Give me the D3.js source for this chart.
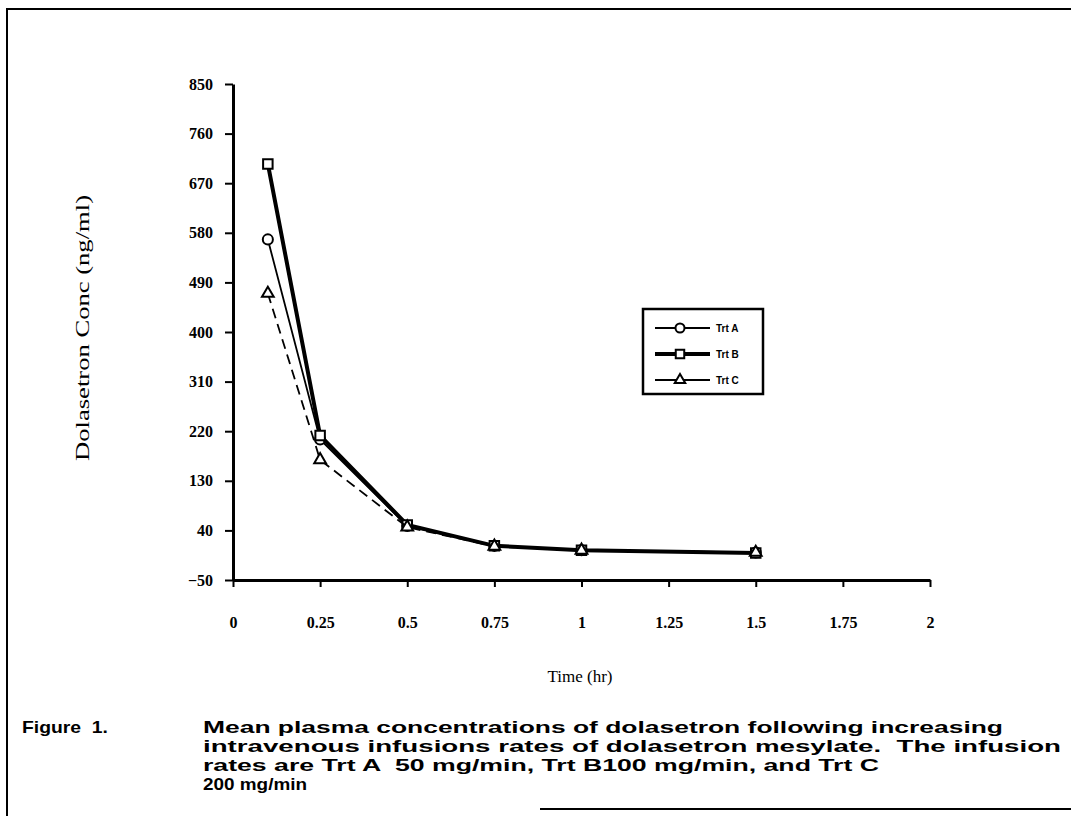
<!DOCTYPE html>
<head>
  <meta charset="utf-8">
  <script src="https://d3js.org/d3.v7.min.js"></script>
  <style>
    body { margin: 0; background: #fff; }
    svg { display: block; }
  </style>
</head>
<body>
  <div class="chart"></div>
  <script>
    var times = [0.1, 0.25, 0.5, 0.75, 1, 1.5];
    var trtA = [568, 205, 48, 12, 4, 0];
    var trtB = [705, 212, 50, 12, 4, -1];
    var trtC = [470, 168, 46, 11, 4, 0];
    var seriesNames = ["Trt A", "Trt B", "Trt C"];
    var yTicks = [-50, 40, 130, 220, 310, 400, 490, 580, 670, 760, 850];
    var xTicks = [0, 0.25, 0.5, 0.75, 1, 1.25, 1.5, 1.75, 2];
    var captionLines = [
      "Mean plasma concentrations of dolasetron following increasing",
      "intravenous infusions rates of dolasetron mesylate.  The infusion",
      "rates are Trt A  50 mg/min, Trt B100 mg/min, and Trt C",
      "200 mg/min"
    ];

    (function() {
      var width = 1071, height = 816;

      var svg = d3.select(".chart").append("svg")
        .attr("width", width)
        .attr("height", height);

      // page frame from the scan
      svg.append("path")
        .attr("d", "M7,816 L7,9 L1071,9")
        .attr("fill", "none").attr("stroke", "#000").attr("stroke-width", 2);
      svg.append("line")
        .attr("x1", 540).attr("x2", 1071).attr("y1", 809).attr("y2", 809)
        .attr("stroke", "#000").attr("stroke-width", 2);

      var x = d3.scaleLinear().domain([0, 2]).range([233, 930]);
      var y = d3.scaleLinear().domain([-50, 850]).range([580, 84]);

      var yAxis = svg.append("g")
        .attr("transform", "translate(233,0)")
        .call(d3.axisLeft(y).tickValues(yTicks).tickSize(8).tickPadding(12).tickSizeOuter(0));
      yAxis.select(".domain").attr("stroke-width", 3);
      yAxis.selectAll(".tick line").attr("stroke-width", 2);
      yAxis.selectAll("text")
        .attr("font-family", "Liberation Serif")
        .attr("font-weight", "bold")
        .attr("font-size", 16)
        .attr("fill", "#000");

      var xAxis = svg.append("g")
        .attr("transform", "translate(0,580)")
        .call(d3.axisBottom(x).tickValues(xTicks).tickSize(7).tickPadding(30).tickSizeOuter(0)
          .tickFormat(function(d) { return String(d); }));
      xAxis.select(".domain").attr("stroke-width", 3);
      xAxis.selectAll(".tick line").attr("stroke-width", 2);
      xAxis.selectAll("text")
        .attr("font-family", "Liberation Serif")
        .attr("font-weight", "bold")
        .attr("font-size", 16)
        .attr("fill", "#000");

      svg.append("text")
        .attr("transform", "translate(89,328) rotate(-90)")
        .attr("text-anchor", "middle")
        .attr("font-family", "Liberation Serif")
        .attr("font-size", 19)
        .attr("textLength", 266)
        .attr("lengthAdjust", "spacingAndGlyphs")
        .text("Dolasetron Conc (ng/ml)");

      svg.append("text")
        .attr("x", 580).attr("y", 682)
        .attr("text-anchor", "middle")
        .attr("font-family", "Liberation Serif")
        .attr("font-size", 17)
        .text("Time (hr)");

      var series = [
        { name: seriesNames[0], values: trtA, width: 1.8, dash: null, shape: d3.symbolCircle, size: 80 },
        { name: seriesNames[1], values: trtB, width: 4, dash: null, shape: d3.symbolSquare, size: 90 },
        { name: seriesNames[2], values: trtC, width: 1.8, dash: "10,6", shape: d3.symbolTriangle, size: 60 }
      ];

      var line = d3.line()
        .x(function(d, i) { return x(times[i]); })
        .y(function(d) { return y(d); });

      var g = svg.selectAll(".series")
        .data(series)
        .enter().append("g")
        .attr("class", "series");

      g.append("path")
        .attr("d", function(d) { return line(d.values); })
        .attr("fill", "none")
        .attr("stroke", "#000")
        .attr("stroke-width", function(d) { return d.width; })
        .attr("stroke-dasharray", function(d) { return d.dash; });

      g.selectAll(".pt")
        .data(function(d) {
          return d.values.map(function(v, i) { return { t: times[i], v: v, s: d }; });
        })
        .enter().append("path")
        .attr("class", "pt")
        .attr("transform", function(d) { return "translate(" + x(d.t) + "," + y(d.v) + ")"; })
        .attr("d", function(d) { return d3.symbol().type(d.s.shape).size(d.s.size)(); })
        .attr("fill", "#fff")
        .attr("stroke", "#000")
        .attr("stroke-width", 2);

      // legend
      var legend = svg.append("g");
      legend.append("rect")
        .attr("x", 643).attr("y", 309).attr("width", 120).attr("height", 85)
        .attr("fill", "#fff").attr("stroke", "#000").attr("stroke-width", 2.5);
      var rows = legend.selectAll(".row")
        .data(series)
        .enter().append("g")
        .attr("transform", function(d, i) { return "translate(0," + (328 + i * 26) + ")"; });
      rows.append("line")
        .attr("x1", 655).attr("x2", 710)
        .attr("stroke", "#000")
        .attr("stroke-width", function(d) { return d.width; });
      rows.append("path")
        .attr("transform", "translate(680,0)")
        .attr("d", function(d) { return d3.symbol().type(d.shape).size(d.size * 0.8)(); })
        .attr("fill", "#fff").attr("stroke", "#000").attr("stroke-width", 2);
      rows.append("text")
        .attr("x", 716).attr("y", 4)
        .attr("font-family", "Liberation Sans")
        .attr("font-weight", "bold")
        .attr("font-size", 10)
        .text(function(d) { return d.name; });

      // caption
      svg.append("text")
        .attr("x", 22).attr("y", 733)
        .attr("font-family", "Liberation Sans")
        .attr("font-weight", "bold")
        .attr("font-size", 17)
        .attr("textLength", 86)
        .attr("lengthAdjust", "spacingAndGlyphs")
        .attr("xml:space", "preserve")
        .text("Figure  1.");

      var capWidths = [800, 858, 676, 104];
      svg.selectAll(".cap")
        .data(captionLines)
        .enter().append("text")
        .attr("class", "cap")
        .attr("x", 203)
        .attr("y", function(d, i) { return 733 + i * 19; })
        .attr("font-family", "Liberation Sans")
        .attr("font-weight", "bold")
        .attr("font-size", 17)
        .attr("textLength", function(d, i) { return capWidths[i]; })
        .attr("lengthAdjust", "spacingAndGlyphs")
        .attr("xml:space", "preserve")
        .text(function(d) { return d; });
    })();
  </script>
</body>
